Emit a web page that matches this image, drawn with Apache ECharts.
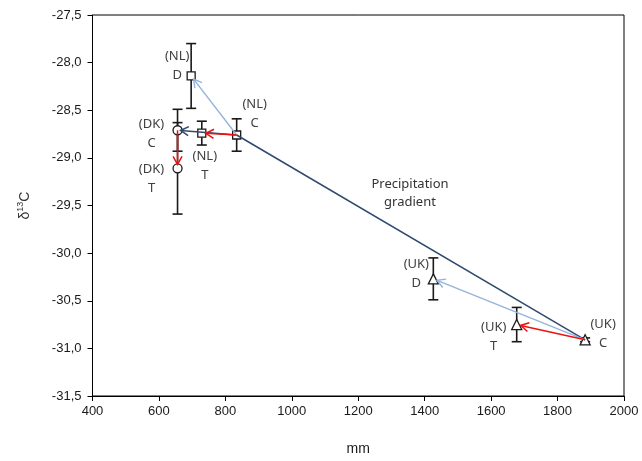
<!DOCTYPE html>
<html>
<head>
<meta charset="utf-8">
<script src="https://cdn.jsdelivr.net/npm/echarts@6/dist/echarts.min.js"></script>
<style>
  html, body { margin: 0; padding: 0; background: #ffffff; }
  #chart { width: 642px; height: 461px; }
</style>
</head>
<body>
<div id="chart"></div>
<script>
// Site / treatment combinations (precipitation in mm, carbon isotope ratio in permil)
const countries = ['(NL)', '(NL)', '(NL)', '(DK)', '(DK)', '(UK)', '(UK)', '(UK)'];
const treatments = ['D', 'C', 'T', 'C', 'T', 'D', 'T', 'C'];
const precipitation = [697, 834, 729, 656, 656, 1426, 1677, 1883];
const delta13C = [-28.14, -28.76, -28.74, -28.71, -29.11, -30.27, -30.75, -30.91];
const errorSize = [0.34, 0.17, 0.125, 0.22, 0.48, 0.22, 0.18, 0.02];

// Arrows between points (indices into the arrays above)
const gradientPath = [7, 1, 3];                 // UK C -> NL C -> DK C
const droughtArrows = [[1, 0], [7, 5]];         // control -> drought
const warmingArrows = [[1, 2], [3, 4], [7, 6]]; // control -> warming

const xTicks = { min: 400, max: 2000, interval: 200 };
const yTicks = { min: -31.5, max: -27.5, interval: 0.5 };

// Label placement (pixel offsets from each point) and marker shapes
const labelOffsets = [[-14, -10], [18, -21], [3, 33], [-26, 4], [-26, 10], [-17, -5], [-23, 12], [18, -6]];
const shapeByCountry = { '(NL)': 'rect', '(DK)': 'circle', '(UK)': 'triangle' };
const sizeByCountry = { '(NL)': 8, '(DK)': 9, '(UK)': 10 };

const points = precipitation.map((x, i) => ({
  value: [x, delta13C[i], errorSize[i]],
  symbol: shapeByCountry[countries[i]],
  symbolSize: sizeByCountry[countries[i]],
  label: { offset: labelOffsets[i] },
  name: countries[i] + '\n' + treatments[i]
}));

function segmentsFromPairs(pairs) {
  return pairs.map(([a, b]) => [precipitation[a], delta13C[a], precipitation[b], delta13C[b], 1]);
}
function segmentsFromPath(path) {
  const segs = [];
  for (let k = 0; k < path.length - 1; k++) {
    const a = path[k], b = path[k + 1];
    segs.push([precipitation[a], delta13C[a], precipitation[b], delta13C[b], k === path.length - 2 ? 1 : 0]);
  }
  return segs;
}

function arrowRenderer(color, width, shorten) {
  return function (params, api) {
    const p0 = api.coord([api.value(0), api.value(1)]);
    const p1 = api.coord([api.value(2), api.value(3)]);
    const hasHead = api.value(4) === 1;
    const dx = p1[0] - p0[0], dy = p1[1] - p0[1];
    const len = Math.sqrt(dx * dx + dy * dy) || 1;
    const ux = dx / len, uy = dy / len;
    const cut = hasHead ? shorten : 0;
    const tip = [p1[0] - ux * cut, p1[1] - uy * cut];
    const children = [{
      type: 'line',
      shape: { x1: p0[0], y1: p0[1], x2: tip[0], y2: tip[1] },
      style: { stroke: color, lineWidth: width }
    }];
    if (hasHead) {
      const L = 8, W = 4.5;
      const bx = tip[0] - ux * L, by = tip[1] - uy * L;
      children.push({
        type: 'polyline',
        shape: { points: [[bx - uy * W, by + ux * W], tip, [bx + uy * W, by - ux * W]] },
        style: { stroke: color, lineWidth: width, fill: null }
      });
    }
    return { type: 'group', children: children };
  };
}

function errorBarRenderer(params, api) {
  const x = api.value(0), y = api.value(1), e = api.value(2);
  const top = api.coord([x, y + e]);
  const bot = api.coord([x, y - e]);
  const cap = 5;
  const style = { stroke: '#1a1a1a', lineWidth: 1.6 };
  return {
    type: 'group',
    children: [
      { type: 'line', shape: { x1: top[0], y1: top[1], x2: bot[0], y2: bot[1] }, style: style },
      { type: 'line', shape: { x1: top[0] - cap, y1: top[1], x2: top[0] + cap, y2: top[1] }, style: style },
      { type: 'line', shape: { x1: bot[0] - cap, y1: bot[1], x2: bot[0] + cap, y2: bot[1] }, style: style }
    ]
  };
}

const axisText = { color: '#1a1a1a', fontFamily: 'Liberation Sans', fontSize: 13 };

const chart = echarts.init(document.getElementById('chart'), null, { renderer: 'canvas' });
chart.setOption({
  backgroundColor: '#ffffff',
  animation: false,
  grid: { left: 92.5, right: 18, top: 15, bottom: 62.5, show: true, borderColor: '#000', borderWidth: 1 },
  xAxis: {
    type: 'value',
    min: xTicks.min, max: xTicks.max, interval: xTicks.interval,
    name: 'mm', nameLocation: 'middle', nameGap: 46,
    nameTextStyle: { color: '#1a1a1a', fontFamily: 'Liberation Sans', fontSize: 14 },
    axisLine: { show: true, lineStyle: { color: '#000', width: 1 } },
    axisTick: { show: true, inside: false, length: 5, lineStyle: { color: '#000' } },
    axisLabel: Object.assign({ margin: 9, formatter: v => String(Math.round(v)) }, axisText),
    splitLine: { show: false }
  },
  yAxis: {
    type: 'value',
    min: yTicks.min, max: yTicks.max, interval: yTicks.interval,
    name: '{d|δ}{s|13}{d|C}', nameLocation: 'middle', nameGap: 60, nameRotate: 90,
    nameTextStyle: {
      rich: {
        d: { fontFamily: 'Liberation Sans', fontSize: 14, color: '#333', verticalAlign: 'bottom', lineHeight: 16 },
        s: { fontFamily: 'Liberation Sans', fontSize: 9, color: '#333', verticalAlign: 'top', lineHeight: 16 }
      }
    },
    axisLine: { show: true, lineStyle: { color: '#000', width: 1 } },
    axisTick: { show: true, inside: false, length: 5, lineStyle: { color: '#000' } },
    axisLabel: Object.assign({ margin: 11, formatter: v => v.toFixed(1).replace('.', ',') }, axisText),
    splitLine: { show: false }
  },
  graphic: [{
    type: 'text',
    x: 410, y: 193,
    style: {
      text: 'Precipitation\ngradient',
      fill: '#333', font: '13px "Noto Sans"', textAlign: 'center', textVerticalAlign: 'middle', lineHeight: 18
    },
    z: 10
  }],
  series: [
    {
      type: 'custom', name: 'errors', renderItem: errorBarRenderer,
      data: points.map(p => p.value), encode: { x: 0, y: 1 }, z: 2, silent: true
    },
    {
      type: 'scatter', name: 'sites', data: points, z: 3,
      itemStyle: { color: '#ffffff', borderColor: '#1a1a1a', borderWidth: 1.3, opacity: 1 },
      label: {
        show: true, position: 'inside', formatter: p => p.name,
        color: '#404040', fontFamily: 'Noto Sans', fontSize: 13, lineHeight: 19, align: 'center'
      }
    },
    {
      type: 'custom', name: 'gradient', renderItem: arrowRenderer('#2f4a6e', 1.5, 3),
      data: segmentsFromPath(gradientPath), encode: { x: [0, 2], y: [1, 3] }, z: 5, silent: true
    },
    {
      type: 'custom', name: 'drought', renderItem: arrowRenderer('#94b4dc', 1.4, 4),
      data: segmentsFromPairs(droughtArrows), encode: { x: [0, 2], y: [1, 3] }, z: 5, silent: true
    },
    {
      type: 'custom', name: 'warming', renderItem: arrowRenderer('#ee1111', 1.5, 4),
      data: segmentsFromPairs(warmingArrows), encode: { x: [0, 2], y: [1, 3] }, z: 5, silent: true
    }
  ]
});
</script>
</body>
</html>
